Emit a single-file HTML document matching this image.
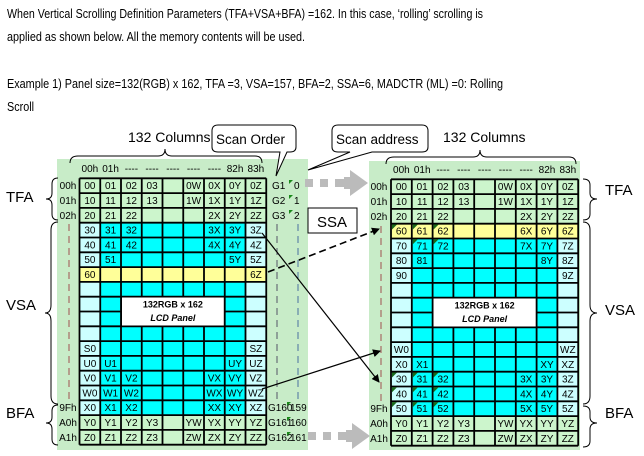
<!DOCTYPE html>
<html><head><meta charset="utf-8"><style>
html,body{margin:0;padding:0;background:#fff;width:644px;height:456px;overflow:hidden}
svg{display:block;font-family:"Liberation Sans",Arial,sans-serif}
</style></head><body>
<svg width="644" height="456" viewBox="0 0 644 456" xmlns="http://www.w3.org/2000/svg">
<defs>
<marker id="ah" markerWidth="8" markerHeight="8" refX="7" refY="4" orient="auto" markerUnits="userSpaceOnUse"><path d="M0,0 L8,4 L0,8 z" fill="#000"/></marker>
</defs>
<g font-size="13" fill="#000">
<text x="7" y="18" textLength="476" lengthAdjust="spacingAndGlyphs">When Vertical Scrolling Definition Parameters (TFA+VSA+BFA) =162. In this case, ‘rolling’ scrolling is</text>
<text x="7" y="41" textLength="298" lengthAdjust="spacingAndGlyphs">applied as shown below. All the memory contents will be used.</text>
<text x="7" y="88" textLength="496" lengthAdjust="spacingAndGlyphs">Example 1) Panel size=132(RGB) x 162, TFA =3, VSA=157, BFA=2, SSA=6, MADCTR (ML) =0: Rolling</text>
<text x="7" y="111" textLength="27" lengthAdjust="spacingAndGlyphs">Scroll</text>
</g>

<rect x="57" y="159" width="251" height="291" fill="#c8ecc8"/>
<rect x="369" y="161" width="211" height="289" fill="#c8ecc8"/>

<!-- LEFT GRID -->
<rect x="79.5" y="178.3" width="186.75" height="266.4" fill="#00ffff"/>
<rect x="79.5" y="222.7" width="20.75" height="192.4" fill="#ccffff"/>
<rect x="245.5" y="222.7" width="20.75" height="192.4" fill="#ccffff"/>
<rect x="79.5" y="178.3" width="186.75" height="44.4" fill="#ccf5cc"/>
<rect x="79.5" y="415.1" width="186.75" height="29.6" fill="#ccf5cc"/>
<rect x="79.5" y="267.1" width="186.75" height="14.8" fill="#ffff99"/>
<path stroke="#000" stroke-width="1.8" fill="none" d="M79.5,178.3V444.7M100.25,178.3V444.7M121,178.3V444.7M141.75,178.3V444.7M162.5,178.3V444.7M183.25,178.3V444.7M204,178.3V444.7M224.75,178.3V444.7M245.5,178.3V444.7M266.25,178.3V444.7
M79.5,178.3H266.25M79.5,193.1H266.25M79.5,207.9H266.25M79.5,222.7H266.25M79.5,237.5H266.25M79.5,252.3H266.25M79.5,267.1H266.25M79.5,281.9H266.25M79.5,296.7H266.25M79.5,311.5H266.25M79.5,326.3H266.25M79.5,341.1H266.25M79.5,355.9H266.25M79.5,370.7H266.25M79.5,385.5H266.25M79.5,400.3H266.25M79.5,415.1H266.25M79.5,429.9H266.25M79.5,444.7H266.25"/>
<rect x="121.5" y="297" width="102.8" height="29" fill="#fff" stroke="#000" stroke-width="1"/>
<text x="172.9" y="307.5" font-size="9" font-weight="bold" text-anchor="middle">132RGB x 162</text>
<text x="172.9" y="321" font-size="9" font-weight="bold" font-style="italic" text-anchor="middle">LCD Panel</text>

<g font-size="10" text-anchor="middle" fill="#000">
<text x="89.9" y="172">00h</text><text x="110.6" y="172">01h</text><text x="131.4" y="172">----</text><text x="152.1" y="172">----</text><text x="172.9" y="172">----</text><text x="193.6" y="172">----</text><text x="214.4" y="172">----</text><text x="235.1" y="172">82h</text><text x="255.9" y="172">83h</text>
<text x="89.9" y="189.2">00</text><text x="110.6" y="189.2">01</text><text x="131.4" y="189.2">02</text><text x="152.1" y="189.2">03</text><text x="193.6" y="189.2">0W</text><text x="214.4" y="189.2">0X</text><text x="235.1" y="189.2">0Y</text><text x="255.9" y="189.2">0Z</text>
<text x="89.9" y="204">10</text><text x="110.6" y="204">11</text><text x="131.4" y="204">12</text><text x="152.1" y="204">13</text><text x="193.6" y="204">1W</text><text x="214.4" y="204">1X</text><text x="235.1" y="204">1Y</text><text x="255.9" y="204">1Z</text>
<text x="89.9" y="218.8">20</text><text x="110.6" y="218.8">21</text><text x="131.4" y="218.8">22</text><text x="214.4" y="218.8">2X</text><text x="235.1" y="218.8">2Y</text><text x="255.9" y="218.8">2Z</text>
<text x="89.9" y="233.6">30</text><text x="110.6" y="233.6">31</text><text x="131.4" y="233.6">32</text><text x="214.4" y="233.6">3X</text><text x="235.1" y="233.6">3Y</text><text x="255.9" y="233.6">3Z</text>
<text x="89.9" y="248.4">40</text><text x="110.6" y="248.4">41</text><text x="131.4" y="248.4">42</text><text x="214.4" y="248.4">4X</text><text x="235.1" y="248.4">4Y</text><text x="255.9" y="248.4">4Z</text>
<text x="89.9" y="263.2">50</text><text x="110.6" y="263.2">51</text><text x="235.1" y="263.2">5Y</text><text x="255.9" y="263.2">5Z</text>
<text x="89.9" y="278">60</text><text x="255.9" y="278">6Z</text>
<text x="89.9" y="352">S0</text><text x="255.9" y="352">SZ</text>
<text x="89.9" y="366.8">U0</text><text x="110.6" y="366.8">U1</text><text x="235.1" y="366.8">UY</text><text x="255.9" y="366.8">UZ</text>
<text x="89.9" y="381.6">V0</text><text x="110.6" y="381.6">V1</text><text x="131.4" y="381.6">V2</text><text x="214.4" y="381.6">VX</text><text x="235.1" y="381.6">VY</text><text x="255.9" y="381.6">VZ</text>
<text x="89.9" y="396.4">W0</text><text x="110.6" y="396.4">W1</text><text x="131.4" y="396.4">W2</text><text x="214.4" y="396.4">WX</text><text x="235.1" y="396.4">WY</text><text x="255.9" y="396.4">WZ</text>
<text x="89.9" y="411.2">X0</text><text x="110.6" y="411.2">X1</text><text x="131.4" y="411.2">X2</text><text x="214.4" y="411.2">XX</text><text x="235.1" y="411.2">XY</text><text x="255.9" y="411.2">XZ</text>
<text x="89.9" y="426">Y0</text><text x="110.6" y="426">Y1</text><text x="131.4" y="426">Y2</text><text x="152.1" y="426">Y3</text><text x="193.6" y="426">YW</text><text x="214.4" y="426">YX</text><text x="235.1" y="426">YY</text><text x="255.9" y="426">YZ</text>
<text x="89.9" y="440.8">Z0</text><text x="110.6" y="440.8">Z1</text><text x="131.4" y="440.8">Z2</text><text x="152.1" y="440.8">Z3</text><text x="193.6" y="440.8">ZW</text><text x="214.4" y="440.8">ZX</text><text x="235.1" y="440.8">ZY</text><text x="255.9" y="440.8">ZZ</text>
<text x="68" y="189.2">00h</text><text x="68" y="204">01h</text><text x="68" y="218.8">02h</text>
<text x="68" y="411.2">9Fh</text><text x="68" y="426">A0h</text><text x="68" y="440.8">A1h</text>
</g>
<line x1="69" y1="224" x2="69" y2="402" stroke="#a05050" stroke-width="1" stroke-dasharray="7,5"/>
<line x1="277" y1="224" x2="277" y2="402" stroke="#556" stroke-width="1" stroke-dasharray="7,5"/>
<line x1="298" y1="224" x2="298" y2="402" stroke="#4a6fa0" stroke-width="1" stroke-dasharray="7,5"/>
<g font-size="10" fill="#000">
<text x="272" y="189.2">G1</text><text x="294" y="189.2">0</text>
<text x="272" y="204">G2</text><text x="294" y="204">1</text>
<text x="272" y="218.8">G3</text><text x="294" y="218.8">2</text>
<text x="268" y="411.2">G160</text><text x="290" y="411.2">159</text>
<text x="268" y="426">G161</text><text x="290" y="426">160</text>
<text x="268" y="440.8">G162</text><text x="290" y="440.8">161</text>
</g>
<g fill="#1a8a1a">
<path d="M289,180 l4,0 l-4,4z"/><path d="M289,195 l4,0 l-4,4z"/><path d="M289,210 l4,0 l-4,4z"/>
<path d="M287,402 l4,0 l-4,4z"/><path d="M287,417 l4,0 l-4,4z"/><path d="M287,432 l4,0 l-4,4z"/>
</g>

<!-- RIGHT GRID -->
<rect x="391" y="179.3" width="187.2" height="266.4" fill="#00ffff"/>
<rect x="391" y="238.5" width="20.8" height="177.6" fill="#ccffff"/>
<rect x="557.4" y="238.5" width="20.8" height="177.6" fill="#ccffff"/>
<rect x="391" y="179.3" width="187.2" height="44.4" fill="#ccf5cc"/>
<rect x="391" y="416.1" width="187.2" height="29.6" fill="#ccf5cc"/>
<rect x="391" y="223.7" width="187.2" height="14.8" fill="#ffff99"/>
<path stroke="#000" stroke-width="1.8" fill="none" d="M391,179.3V445.7M411.8,179.3V445.7M432.6,179.3V445.7M453.4,179.3V445.7M474.2,179.3V445.7M495,179.3V445.7M515.8,179.3V445.7M536.6,179.3V445.7M557.4,179.3V445.7M578.2,179.3V445.7
M391,179.3H578.2M391,194.1H578.2M391,208.9H578.2M391,223.7H578.2M391,238.5H578.2M391,253.3H578.2M391,268.1H578.2M391,282.9H578.2M391,297.7H578.2M391,312.5H578.2M391,327.3H578.2M391,342.1H578.2M391,356.9H578.2M391,371.7H578.2M391,386.5H578.2M391,401.3H578.2M391,416.1H578.2M391,430.9H578.2M391,445.7H578.2"/>
<rect x="433" y="298" width="103.2" height="29" fill="#fff" stroke="#000" stroke-width="1"/>
<text x="484.6" y="308.5" font-size="9" font-weight="bold" text-anchor="middle">132RGB x 162</text>
<text x="484.6" y="322" font-size="9" font-weight="bold" font-style="italic" text-anchor="middle">LCD Panel</text>
<g fill="#1a6a1a">
<path d="M392,224.5 l5,0 l-5,5z"/><path d="M412.8,224.5 l5,0 l-5,5z"/><path d="M433.6,224.5 l5,0 l-5,5z"/>
<path d="M412.8,239.3 l5,0 l-5,5z"/><path d="M433.6,239.3 l5,0 l-5,5z"/>
<path d="M392,372.5 l5,0 l-5,5z"/><path d="M412.8,372.5 l5,0 l-5,5z"/><path d="M433.6,372.5 l5,0 l-5,5z"/>
<path d="M392,387.3 l5,0 l-5,5z"/><path d="M412.8,387.3 l5,0 l-5,5z"/><path d="M433.6,387.3 l5,0 l-5,5z"/>
<path d="M392,402.1 l5,0 l-5,5z"/><path d="M412.8,402.1 l5,0 l-5,5z"/><path d="M433.6,402.1 l5,0 l-5,5z"/>
</g>
<g font-size="10" text-anchor="middle" fill="#000">
<text x="401.4" y="173">00h</text><text x="422.2" y="173">01h</text><text x="443" y="173">----</text><text x="463.8" y="173">----</text><text x="484.6" y="173">----</text><text x="505.4" y="173">----</text><text x="526.2" y="173">----</text><text x="547" y="173">82h</text><text x="567.8" y="173">83h</text>
<text x="401.4" y="190.2">00</text><text x="422.2" y="190.2">01</text><text x="443" y="190.2">02</text><text x="463.8" y="190.2">03</text><text x="505.4" y="190.2">0W</text><text x="526.2" y="190.2">0X</text><text x="547" y="190.2">0Y</text><text x="567.8" y="190.2">0Z</text>
<text x="401.4" y="205">10</text><text x="422.2" y="205">11</text><text x="443" y="205">12</text><text x="463.8" y="205">13</text><text x="505.4" y="205">1W</text><text x="526.2" y="205">1X</text><text x="547" y="205">1Y</text><text x="567.8" y="205">1Z</text>
<text x="401.4" y="219.8">20</text><text x="422.2" y="219.8">21</text><text x="443" y="219.8">22</text><text x="526.2" y="219.8">2X</text><text x="547" y="219.8">2Y</text><text x="567.8" y="219.8">2Z</text>
<text x="401.4" y="234.6">60</text><text x="422.2" y="234.6">61</text><text x="443" y="234.6">62</text><text x="526.2" y="234.6">6X</text><text x="547" y="234.6">6Y</text><text x="567.8" y="234.6">6Z</text>
<text x="401.4" y="249.4">70</text><text x="422.2" y="249.4">71</text><text x="443" y="249.4">72</text><text x="526.2" y="249.4">7X</text><text x="547" y="249.4">7Y</text><text x="567.8" y="249.4">7Z</text>
<text x="401.4" y="264.2">80</text><text x="422.2" y="264.2">81</text><text x="547" y="264.2">8Y</text><text x="567.8" y="264.2">8Z</text>
<text x="401.4" y="279">90</text><text x="567.8" y="279">9Z</text>
<text x="401.4" y="353">W0</text><text x="567.8" y="353">WZ</text>
<text x="401.4" y="367.8">X0</text><text x="422.2" y="367.8">X1</text><text x="547" y="367.8">XY</text><text x="567.8" y="367.8">XZ</text>
<text x="401.4" y="382.6">30</text><text x="422.2" y="382.6">31</text><text x="443" y="382.6">32</text><text x="526.2" y="382.6">3X</text><text x="547" y="382.6">3Y</text><text x="567.8" y="382.6">3Z</text>
<text x="401.4" y="397.4">40</text><text x="422.2" y="397.4">41</text><text x="443" y="397.4">42</text><text x="526.2" y="397.4">4X</text><text x="547" y="397.4">4Y</text><text x="567.8" y="397.4">4Z</text>
<text x="401.4" y="412.2">50</text><text x="422.2" y="412.2">51</text><text x="443" y="412.2">52</text><text x="526.2" y="412.2">5X</text><text x="547" y="412.2">5Y</text><text x="567.8" y="412.2">5Z</text>
<text x="401.4" y="427">Y0</text><text x="422.2" y="427">Y1</text><text x="443" y="427">Y2</text><text x="463.8" y="427">Y3</text><text x="505.4" y="427">YW</text><text x="526.2" y="427">YX</text><text x="547" y="427">YY</text><text x="567.8" y="427">YZ</text>
<text x="401.4" y="441.8">Z0</text><text x="422.2" y="441.8">Z1</text><text x="443" y="441.8">Z2</text><text x="463.8" y="441.8">Z3</text><text x="505.4" y="441.8">ZW</text><text x="526.2" y="441.8">ZX</text><text x="547" y="441.8">ZY</text><text x="567.8" y="441.8">ZZ</text>
<text x="379" y="190.2">00h</text><text x="379" y="205">01h</text><text x="379" y="219.8">02h</text>
<text x="379" y="412.2">9Fh</text><text x="379" y="427">A0h</text><text x="379" y="441.8">A1h</text>
</g>
<line x1="381" y1="226" x2="381" y2="402" stroke="#a05050" stroke-width="1" stroke-dasharray="7,5"/>

<g fill="none" stroke="#000" stroke-width="1">
<path d="M70,163 Q70,156 78,156 L158,156 Q165,156 165,149 Q165,156 172,156 L255,156 Q262,156 262,163"/>
<path d="M386,164 Q386,157 394,157 L473,157 Q480,157 480,150 Q480,157 487,157 L569,157 Q576,157 576,164"/>
<path d="M58,178 Q52,178 52,184 L52,193 Q52,199 46,199 Q52,199 52,205 L52,214 Q52,220 58,220"/>
<path d="M58,222 Q51,222 51,230 L51,305 Q51,313 45,313 Q51,313 51,321 L51,396 Q51,404 58,404"/>
<path d="M58,405 Q52,405 52,411 L52,417 Q52,423 46,423 Q52,423 52,429 L52,439 Q52,445 58,445"/>
<path d="M583,179 Q590,179 590,185 L590,193 Q590,199 597,199 Q590,199 590,205 L590,214 Q590,220 583,220"/>
<path d="M583,222 Q590,222 590,230 L590,305 Q590,313 597,313 Q590,313 590,321 L590,396 Q590,404 583,404"/>
<path d="M583,406 Q590,406 590,412 L590,417 Q590,423 597,423 Q590,423 590,429 L590,441 Q590,447 583,447"/>
</g>
<g font-size="15" fill="#000">
<text x="6" y="202">TFA</text><text x="6" y="310">VSA</text><text x="6" y="418">BFA</text>
<text x="605" y="195">TFA</text><text x="605" y="315">VSA</text><text x="605" y="418">BFA</text>
</g>
<g font-size="14" fill="#000">
<text x="128" y="142">132 Columns</text><text x="443" y="142">132 Columns</text>
</g>

<path d="M218,125 L290,125 Q296,125 296,131 L296,147 Q296,152 290,152 L287,152 L276,176 L280,152 L218,152 Q212,152 212,147 L212,131 Q212,125 218,125Z" fill="#fff" stroke="#000" stroke-width="1"/>
<text x="216" y="144" font-size="13.5">Scan Order</text>
<path d="M338,125 L422,125 Q428,125 428,131 L428,147 Q428,152 422,152 L372,152 L308,170 L350,152 L338,152 Q332,152 332,147 L332,131 Q332,125 338,125Z" fill="#fff" stroke="#000" stroke-width="1"/>
<text x="336" y="144" font-size="13.5">Scan address</text>
<rect x="308" y="208" width="49" height="25" fill="#fff" stroke="#000" stroke-width="1"/>
<text x="317" y="227" font-size="15">SSA</text>

<g fill="#bbbbbb">
<rect x="305" y="179" width="8" height="8"/><rect x="320" y="179" width="8" height="8"/><rect x="335" y="179" width="9" height="8"/>
<path d="M344,177 L350,177 L350,170 L368,183 L350,196 L350,189 L344,189Z"/>
<rect x="308" y="432" width="8" height="8"/><rect x="323" y="432" width="8" height="8"/><rect x="338" y="432" width="8" height="8"/>
<path d="M346,430 L352,430 L352,423 L370,436 L352,449 L352,442 L346,442Z"/>
</g>

<line x1="262" y1="233" x2="379" y2="382" stroke="#000" stroke-width="1.2" marker-end="url(#ah)"/>
<line x1="262" y1="389" x2="380" y2="351" stroke="#000" stroke-width="1.2" marker-end="url(#ah)"/>
<line x1="268" y1="272" x2="379" y2="229" stroke="#000" stroke-width="1.6" stroke-dasharray="7,4" marker-end="url(#ah)"/>
</svg>
</body></html>
